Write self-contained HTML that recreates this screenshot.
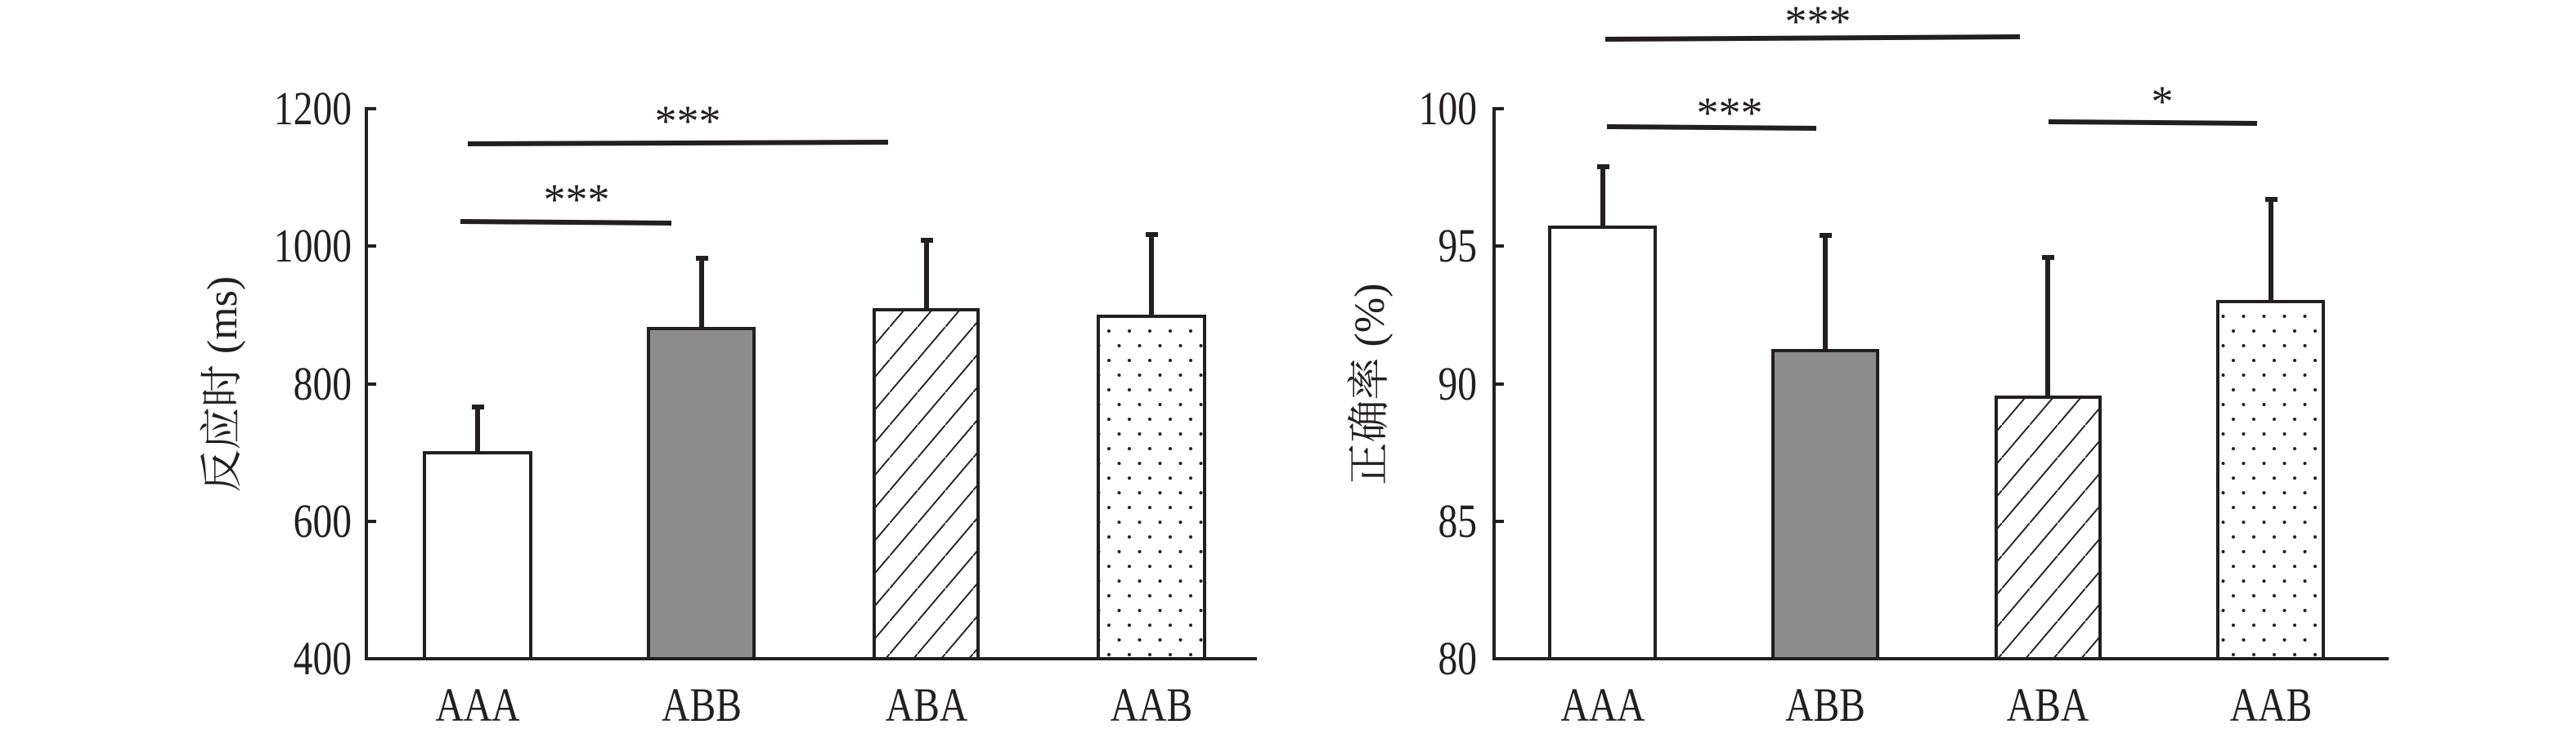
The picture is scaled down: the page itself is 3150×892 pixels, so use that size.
<!DOCTYPE html>
<html><head><meta charset="utf-8"><style>
html,body{margin:0;padding:0;background:#fff}
svg{display:block}
text{font-family:"Liberation Serif","Noto Serif CJK SC",serif;fill:#231f20}
</style></head><body>
<svg width="3150" height="892" viewBox="0 0 3150 892" xmlns="http://www.w3.org/2000/svg">
<defs>
<pattern id="hatch" patternUnits="userSpaceOnUse" width="34" height="40">
<line x1="-3.4" y1="44" x2="37.4" y2="-4" stroke="#231f20" stroke-width="2"/>
</pattern>
<pattern id="dots" patternUnits="userSpaceOnUse" width="25" height="36">
<circle cx="6" cy="9" r="2" fill="#231f20"/>
<circle cx="18.5" cy="27" r="2" fill="#231f20"/>
</pattern>
</defs>
<g stroke="#231f20" fill="none">
<line x1="448" y1="131" x2="448" y2="808" stroke-width="4"/>
<line x1="446" y1="806" x2="1537" y2="806" stroke-width="4"/>
<line x1="448" y1="133" x2="460" y2="133" stroke-width="4"/>
<line x1="448" y1="301" x2="460" y2="301" stroke-width="4"/>
<line x1="448" y1="470" x2="460" y2="470" stroke-width="4"/>
<line x1="448" y1="638" x2="460" y2="638" stroke-width="4"/>
<line x1="1827" y1="131" x2="1827" y2="808" stroke-width="4"/>
<line x1="1825" y1="806" x2="2921" y2="806" stroke-width="4"/>
<line x1="1827" y1="133" x2="1839" y2="133" stroke-width="4"/>
<line x1="1827" y1="301" x2="1839" y2="301" stroke-width="4"/>
<line x1="1827" y1="470" x2="1839" y2="470" stroke-width="4"/>
<line x1="1827" y1="638" x2="1839" y2="638" stroke-width="4"/>
</g>
<g stroke="#231f20" stroke-width="6">
<line x1="584" y1="554" x2="584" y2="498"/><line x1="577" y1="498" x2="592" y2="498"/>
<line x1="858" y1="402" x2="858" y2="316"/><line x1="851" y1="316" x2="866" y2="316"/>
<line x1="1133" y1="379" x2="1133" y2="294"/><line x1="1126" y1="294" x2="1141" y2="294"/>
<line x1="1408" y1="387" x2="1408" y2="287"/><line x1="1401" y1="287" x2="1416" y2="287"/>
</g>
<g stroke="#231f20" stroke-width="4">
<rect x="519" y="554" width="130" height="252" fill="#fff"/>
<rect x="793" y="402" width="129" height="404" fill="#8d8c8c"/>
<rect x="1069" y="379" width="127" height="427" fill="url(#hatch)"/>
<rect x="1343" y="387" width="130" height="419" fill="url(#dots)"/>
</g>
<g stroke="#231f20" stroke-width="6">
<line x1="1960" y1="278" x2="1960" y2="204"/><line x1="1953" y1="204" x2="1968" y2="204"/>
<line x1="2232" y1="429" x2="2232" y2="288"/><line x1="2225" y1="288" x2="2240" y2="288"/>
<line x1="2504" y1="486" x2="2504" y2="315"/><line x1="2497" y1="315" x2="2512" y2="315"/>
<line x1="2777" y1="369" x2="2777" y2="244"/><line x1="2770" y1="244" x2="2785" y2="244"/>
</g>
<g stroke="#231f20" stroke-width="4">
<rect x="1895" y="278" width="129" height="528" fill="#fff"/>
<rect x="2168" y="429" width="128" height="377" fill="#8d8c8c"/>
<rect x="2441" y="486" width="127" height="320" fill="url(#hatch)"/>
<rect x="2712" y="369" width="129" height="437" fill="url(#dots)"/>
</g>
<g stroke="#231f20" stroke-width="6">
<line x1="572" y1="176" x2="1086" y2="174"/>
<line x1="563" y1="271" x2="821" y2="273"/>
<line x1="1963" y1="48" x2="2470" y2="45"/>
<line x1="1965" y1="155" x2="2221" y2="157"/>
<line x1="2505" y1="149" x2="2760" y2="151"/>
</g>
<g font-size="54" text-anchor="middle">
<text x="841" y="166">***</text>
<text x="705" y="262">***</text>
<text x="2223" y="44">***</text>
<text x="2115" y="156">***</text>
<text x="2644" y="142">*</text>
</g>
<g font-size="58" text-anchor="end">
<text transform="translate(430,152) scale(0.82,1)">1200</text>
<text transform="translate(430,320) scale(0.82,1)">1000</text>
<text transform="translate(430,489) scale(0.82,1)">800</text>
<text transform="translate(430,657) scale(0.82,1)">600</text>
<text transform="translate(430,825) scale(0.82,1)">400</text>
<text transform="translate(1806,152) scale(0.82,1)">100</text>
<text transform="translate(1806,320) scale(0.82,1)">95</text>
<text transform="translate(1806,489) scale(0.82,1)">90</text>
<text transform="translate(1806,657) scale(0.82,1)">85</text>
<text transform="translate(1806,825) scale(0.82,1)">80</text>
</g>
<g font-size="58" text-anchor="middle">
<text transform="translate(584,882) scale(0.82,1)">AAA</text>
<text transform="translate(858,882) scale(0.82,1)">ABB</text>
<text transform="translate(1133,882) scale(0.82,1)">ABA</text>
<text transform="translate(1408,882) scale(0.82,1)">AAB</text>
<text transform="translate(1960,882) scale(0.82,1)">AAA</text>
<text transform="translate(2232,882) scale(0.82,1)">ABB</text>
<text transform="translate(2504,882) scale(0.82,1)">ABA</text>
<text transform="translate(2777,882) scale(0.82,1)">AAB</text>
</g>
<g font-size="52" text-anchor="middle">
<text transform="translate(289,470) rotate(-90)">反应时 (ms)</text>
<text transform="translate(1692,470) rotate(-90)">正确率 (%)</text>
</g>
</svg>
</body></html>
